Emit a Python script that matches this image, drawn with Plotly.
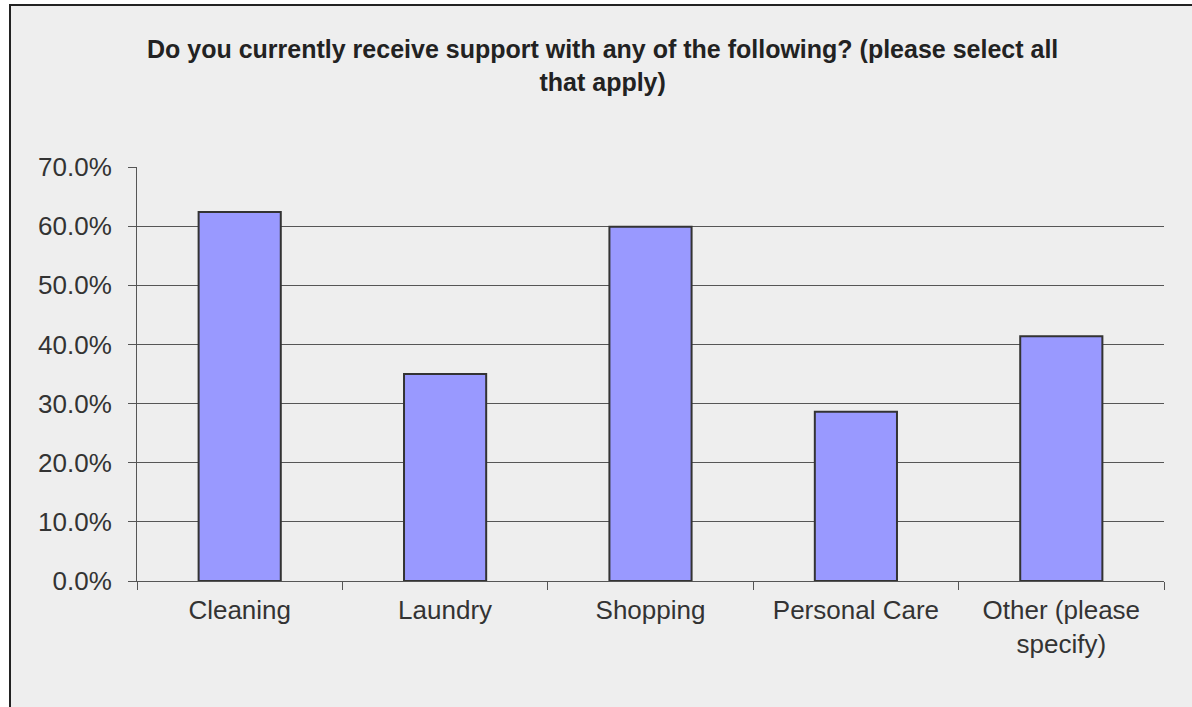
import plotly.graph_objects as go

categories = ["Cleaning", "Laundry", "Shopping", "Personal Care", "Other (please<br>specify)"]
values = [62.4, 35.0, 59.9, 28.6, 41.4]
title_text = "Do you currently receive support with any of the following? (please select all<br>that apply)"

W, H = 1192, 707
L, R, T, B = 137, 28, 167, 126
pw, ph = W - L - R, H - T - B

def px_x(p):
    return (p - L) / pw

def px_y(p):
    return (H - B - p) / ph

fig = go.Figure()
fig.add_trace(go.Bar(
    x=categories, y=values,
    marker=dict(color="#9999FF", line=dict(color="#333333", width=2)),
))

fig.update_layout(
    width=W, height=H,
    margin=dict(l=L, r=R, t=T, b=B),
    paper_bgcolor="white",
    plot_bgcolor="rgba(0,0,0,0)",
    bargap=0.6,
    showlegend=False,
    font=dict(family="Liberation Sans, Arial, sans-serif", color="#333333"),
    shapes=[dict(type="rect", xref="paper", yref="paper",
                 x0=px_x(10), x1=px_x(1210), y0=px_y(720), y1=px_y(5),
                 fillcolor="#EEEEEE", line=dict(color="#222222", width=2),
                 layer="below")],
    annotations=[dict(text="<b>" + title_text + "</b>", xref="paper", yref="paper",
                      x=px_x(602), y=px_y(33), xanchor="center", yanchor="top",
                      showarrow=False, align="center",
                      font=dict(family="Liberation Sans, Arial", size=25, color="#222222"))],
)
fig.update_yaxes(range=[0, 70], dtick=10, tickformat=".1f", ticksuffix="%",
                 showgrid=True, gridcolor="#555555", gridwidth=1,
                 showline=True, linecolor="#555555", linewidth=1,
                 ticks="outside", ticklen=8, tickcolor="#555555",
                 ticklabelstandoff=11,
                 tickfont=dict(size=26, color="#333333"), zeroline=False)
fig.update_xaxes(showline=True, linecolor="#555555", linewidth=1,
                 ticks="outside", ticklen=8, tickcolor="#555555", tickson="boundaries",
                 ticklabelstandoff=6,
                 tickfont=dict(size=26, color="#333333"))
fig.write_html("out.html", post_script="document.body.style.margin='0';",
               config={"displayModeBar": False})
